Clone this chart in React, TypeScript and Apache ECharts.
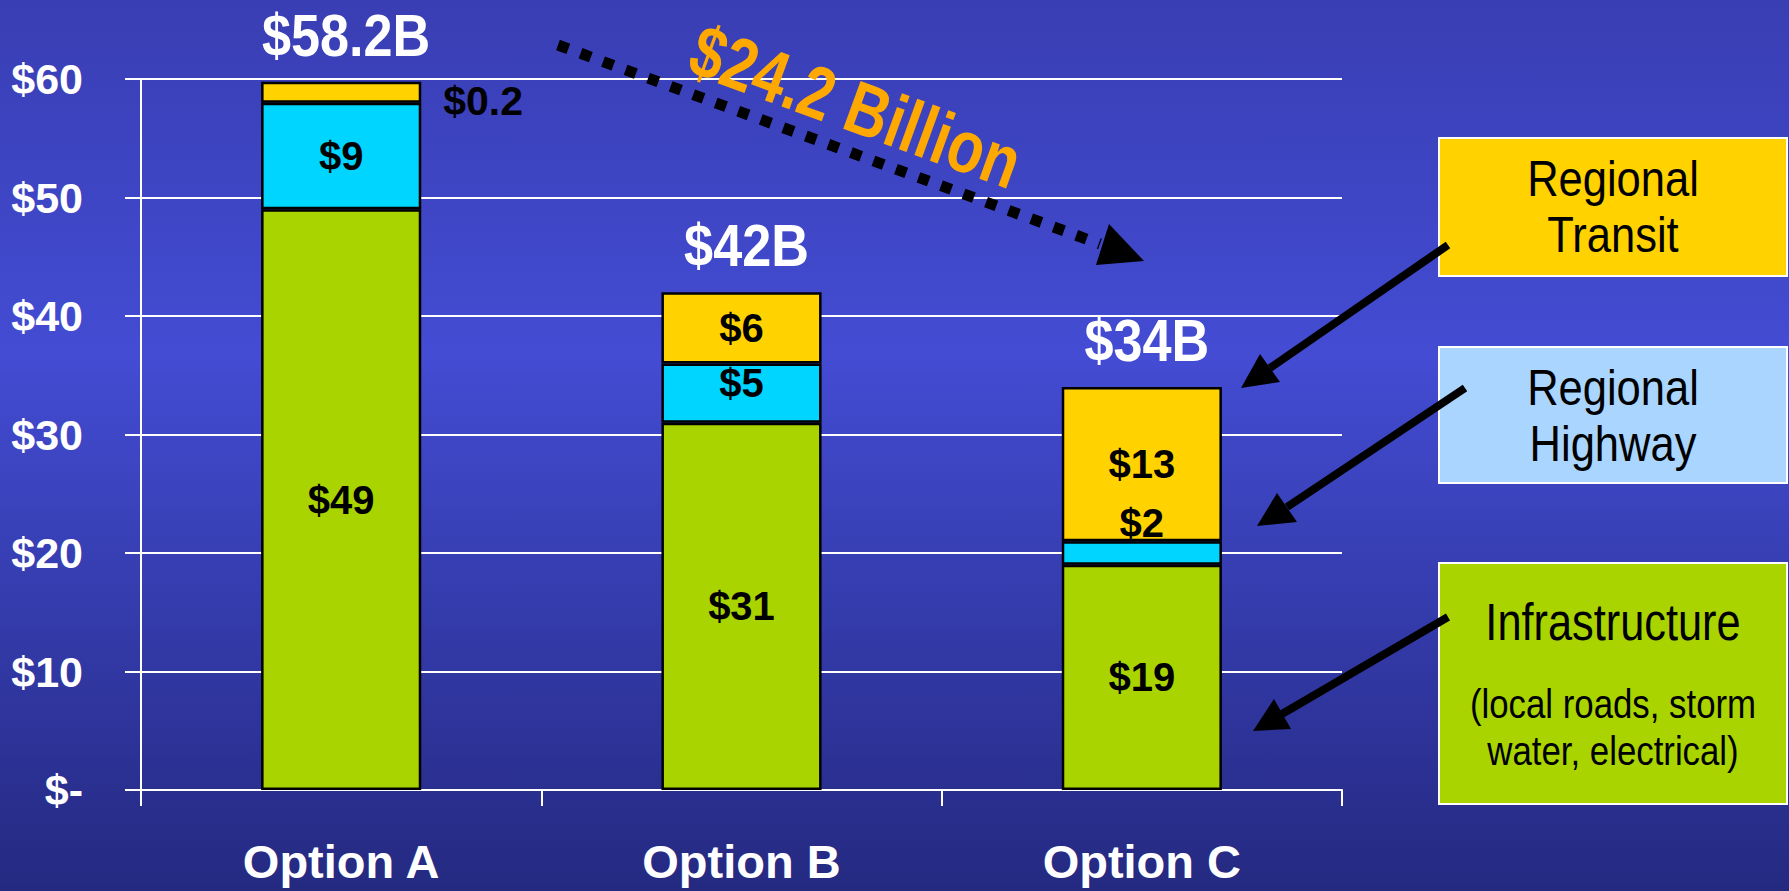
import React, { useEffect, useRef } from 'react';
import * as echarts from 'echarts';

const categories = ['Option A', 'Option B', 'Option C'];
const infrastructure = [49, 31, 19];
const highway = [9, 5, 2];
const transit = [0.2, 6, 13];
const totals = [58.2, 42, 34];
const yMin = 0;
const yMax = 60;
const yStep = 10;

const FONT = '"Liberation Sans", Arial, sans-serif';
const MIN_H = 21;
const highwayLabelOffsets = [[0, 0], [0, -10], [0, -30]];

export default function App() {
  const ref = useRef<HTMLDivElement>(null);
  useEffect(() => {
    if (!ref.current) return;
    const chart = echarts.init(ref.current, null, { renderer: 'svg' });
    const segLabel = {
      show: true,
      position: 'inside',
      formatter: (p: any) => '$' + p.value,
      color: '#000',
      fontSize: 40,
      fontWeight: 'bold',
      fontFamily: FONT,
    };
    const option: any = {
      animation: false,
      backgroundColor: new echarts.graphic.LinearGradient(0, 0, 0, 1, [
        { offset: 0, color: '#393EB3' },
        { offset: 0.4, color: '#434CD3' },
        { offset: 1, color: '#242980' },
      ]),
      grid: { left: 141, right: 447, top: 79, bottom: 101, containLabel: false, outerBoundsMode: 'none' },
      xAxis: {
        type: 'category',
        data: categories,
        axisLine: { lineStyle: { color: '#fff', width: 2 } },
        axisTick: { show: true, length: 16, lineStyle: { color: '#fff', width: 2 } },
        axisLabel: { color: '#fff', fontFamily: FONT, fontWeight: 'bold', fontSize: 47, margin: 48 },
      },
      yAxis: {
        type: 'value',
        min: yMin,
        max: yMax,
        interval: yStep,
        axisLine: { show: true, lineStyle: { color: '#fff', width: 2 } },
        axisTick: { show: true, length: 16, lineStyle: { color: '#fff', width: 2 } },
        splitLine: { show: true, lineStyle: { color: '#fff', width: 2 } },
        axisLabel: {
          formatter: (v: number) => (v === 0 ? '$-' : '$' + v),
          color: '#fff',
          fontSize: 43,
          fontWeight: 'bold',
          fontFamily: FONT,
          margin: 58,
        },
      },
      series: [
        {
          name: 'Infrastructure',
          type: 'bar',
          stack: 't',
          barWidth: '40%',
          data: infrastructure,
          itemStyle: { color: '#AAD400', borderColor: '#000', borderWidth: 2.5 },
          label: segLabel,
        },
        {
          name: 'Regional Highway',
          type: 'bar',
          stack: 't',
          barWidth: '40%',
          data: highway.map((v, i) => ({ value: v, label: { offset: highwayLabelOffsets[i] } })),
          itemStyle: { color: '#00D5FF', borderColor: '#000', borderWidth: 2.5 },
          label: segLabel,
        },
        {
          name: 'Regional Transit',
          type: 'bar',
          stack: 't',
          barWidth: '40%',
          barMinHeight: MIN_H,
          data: transit.map((v) =>
            v < 1
              ? { value: v, label: { position: 'right', distance: 22, offset: [0, 9], fontSize: 41 } }
              : v
          ),
          itemStyle: { color: '#FFD200', borderColor: '#000', borderWidth: 2.5 },
          label: segLabel,
        },
        {
          name: 'Total',
          type: 'custom',
          data: totals.map((t, i) => [i, t]),
          z: 10,
          renderItem: (params: any, api: any) => {
            const i = api.value(0);
            const p = api.coord([i, api.value(1)]);
            const base = api.coord([i, infrastructure[i] + highway[i]]);
            const top = Math.min(p[1], base[1] - MIN_H);
            return {
              type: 'text',
              x: p[0] + 5,
              y: top - 17,
              scaleX: 0.87,
              style: {
                text: '$' + totals[i] + 'B',
                fill: '#fff',
                font: `bold 60px ${FONT}`,
                align: 'center',
                verticalAlign: 'bottom',
              },
            };
          },
        },
      ],
      graphic: [
        { type: 'rect', z: 100, shape: { x: 1439, y: 138, width: 348, height: 138 }, style: { fill: '#FFD200', stroke: '#fff', lineWidth: 2 } },
        { type: 'rect', z: 100, shape: { x: 1439, y: 347, width: 348, height: 136 }, style: { fill: '#A9D5FF', stroke: '#fff', lineWidth: 2 } },
        { type: 'rect', z: 100, shape: { x: 1439, y: 563, width: 348, height: 241 }, style: { fill: '#AAD400', stroke: '#fff', lineWidth: 2 } },
        { type: 'text', z: 101, x: 1613, y: 207, scaleX: 0.87, style: { text: 'Regional\nTransit', fill: '#000', font: `50px ${FONT}`, lineHeight: 56, align: 'center', verticalAlign: 'middle' } },
        { type: 'text', z: 101, x: 1613, y: 416, scaleX: 0.87, style: { text: 'Regional\nHighway', fill: '#000', font: `50px ${FONT}`, lineHeight: 56, align: 'center', verticalAlign: 'middle' } },
        { type: 'text', z: 101, x: 1613, y: 622, scaleX: 0.85, style: { text: 'Infrastructure', fill: '#000', font: `51px ${FONT}`, align: 'center', verticalAlign: 'middle' } },
        { type: 'text', z: 101, x: 1613, y: 728, scaleX: 0.87, style: { text: '(local roads, storm\nwater, electrical)', fill: '#000', font: `40px ${FONT}`, lineHeight: 47, align: 'center', verticalAlign: 'middle' } },
        { type: 'line', z: 100, shape: { x1: 1448, y1: 245, x2: 1270, y2: 368 }, style: { stroke: '#000', lineWidth: 8 } },
        { type: 'polygon', z: 100, shape: { points: [[1241, 388], [1260, 354], [1280, 382]] }, style: { fill: '#000' } },
        { type: 'line', z: 100, shape: { x1: 1465, y1: 388, x2: 1287, y2: 507 }, style: { stroke: '#000', lineWidth: 8 } },
        { type: 'polygon', z: 100, shape: { points: [[1257, 526], [1277, 493], [1297, 522]] }, style: { fill: '#000' } },
        { type: 'line', z: 100, shape: { x1: 1448, y1: 617, x2: 1282, y2: 714 }, style: { stroke: '#000', lineWidth: 8 } },
        { type: 'polygon', z: 100, shape: { points: [[1253, 731], [1274, 699], [1291, 729]] }, style: { fill: '#000' } },
        { type: 'line', z: 100, shape: { x1: 558, y1: 45, x2: 1100, y2: 244 }, style: { stroke: '#000', lineWidth: 11, lineDash: [11, 13] } },
        { type: 'polygon', z: 100, shape: { points: [[1096, 265], [1109, 224], [1144, 261]] }, style: { fill: '#000' } },
        {
          type: 'text', z: 101, x: 856, y: 106, rotation: (-20 * Math.PI) / 180, scaleX: 0.8,
          style: { text: '$24.2 Billion', fill: '#FFA800', font: `bold 74px ${FONT}`, align: 'center', verticalAlign: 'middle' },
        },
      ],
    };
    chart.setOption(option);
    return () => chart.dispose();
  }, []);
  return (
    <div
      ref={ref}
      style={{ position: 'fixed', left: 0, top: 0, width: 1789, height: 891 }}
    />
  );
}
